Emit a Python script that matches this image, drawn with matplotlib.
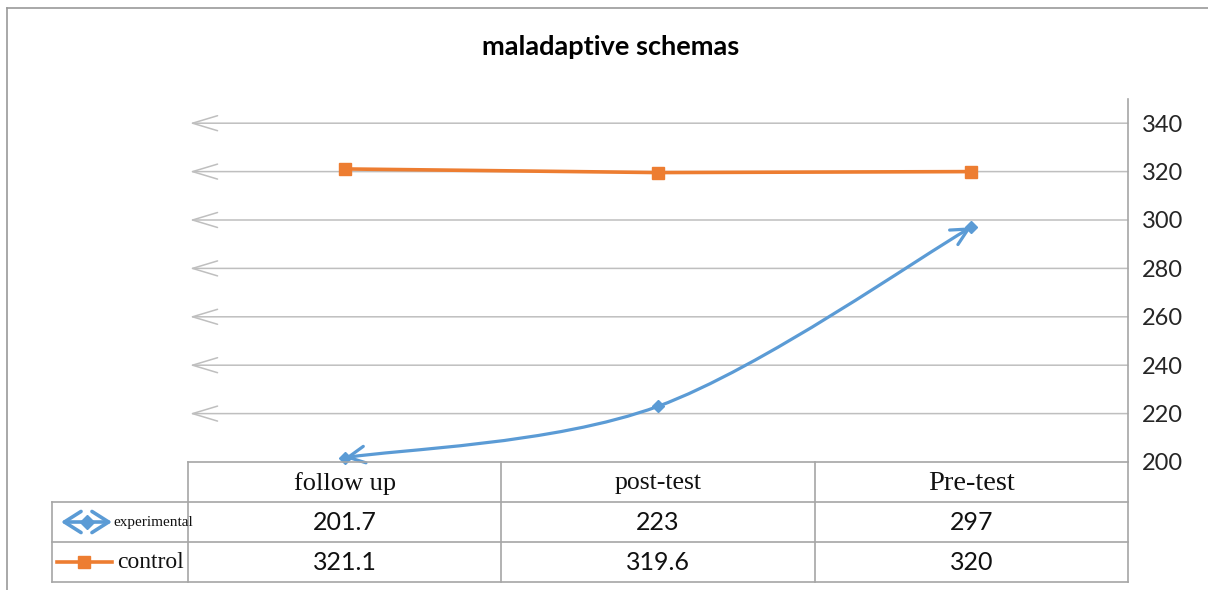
import matplotlib
matplotlib.use("Agg")
import matplotlib.pyplot as plt
from matplotlib.path import Path
from matplotlib.patches import FancyArrowPatch
from matplotlib.lines import Line2D

# data
categories = ["follow up", "post-test", "Pre-test"]
experimental = [201.7, 223, 297]
control = [321.1, 319.6, 320]
series_names = ["experimental", "control"]
yticks = [200, 220, 240, 260, 280, 300, 320, 340]
title = "maladaptive schemas"

BLUE = "#5B9BD5"
ORANGE = "#ED7D31"
GRID = "#bfbfbf"
BORDER = "#a6a6a6"
W, H = 1208, 590


def smooth_path(xs, ys):
    """Excel-like smoothed line through the points (cubic bezier)."""
    pts = list(zip(xs, ys))
    verts = [pts[0]]
    codes = [Path.MOVETO]
    n = len(pts)
    for i in range(n - 1):
        p_prev = pts[max(i - 1, 0)]
        p0, p1 = pts[i], pts[i + 1]
        p_next = pts[min(i + 2, n - 1)]
        c1 = (p0[0] + (p1[0] - p_prev[0]) / 6, p0[1] + (p1[1] - p_prev[1]) / 6)
        c2 = (p1[0] - (p_next[0] - p0[0]) / 6, p1[1] - (p_next[1] - p0[1]) / 6)
        verts += [c1, c2, p1]
        codes += [Path.CURVE4] * 3
    return Path(verts, codes)


fig = plt.figure(figsize=(W / 100, H / 100), dpi=100)

# outer frame (only top/left visible)
fig.add_artist(Line2D([7 / W, 7 / W], [0, 1 - 8 / H], color="#9a9a9a", lw=1.2))
fig.add_artist(Line2D([7 / W, 1], [1 - 8 / H, 1 - 8 / H], color="#9a9a9a", lw=1.2))

fig.text(0.5055, 1 - 47 / H, title, ha="center", va="center",
         fontsize=19.5, fontweight="bold", family="Lato", color="#000000")

# main plot area
ax = fig.add_axes([188 / W, 1 - 462 / H, 940 / W, 363 / H])
x = list(range(len(categories)))
ax.set_xlim(-0.5, 2.5)
ax.set_ylim(200, 350)
for s in ["top", "left", "bottom"]:
    ax.spines[s].set_visible(False)
ax.spines["right"].set_color(BORDER)
ax.spines["right"].set_linewidth(1.2)
ax.set_xticks([])
ax.yaxis.tick_right()
ax.set_yticks(yticks)
ax.set_yticklabels([str(v) for v in yticks], family="Lato", fontsize=17, color="#262626")
ax.tick_params(axis="y", length=0, pad=10)

# gridlines with open arrowheads on the left end
for v in yticks[1:]:
    ax.annotate("", xy=(-0.5 + 0.006, v), xytext=(2.5, v),
                arrowprops=dict(arrowstyle="->,head_length=0.9,head_width=0.27",
                                mutation_scale=20, color=GRID, lw=1.1,
                                shrinkA=0, shrinkB=0),
                zorder=1)

# control series
ax.plot(x, control, color=ORANGE, lw=2.6, marker="s", ms=8, zorder=3,
        solid_capstyle="round")

# experimental series: smoothed with arrows at both ends
arr = FancyArrowPatch(path=smooth_path(x, experimental),
                      arrowstyle="<->,head_length=0.6,head_width=0.3",
                      mutation_scale=20, color=BLUE, lw=2.3, zorder=4,
                      clip_on=False)
ax.add_patch(arr)
ax.plot(x, experimental, ls="none", marker="D", ms=6, color=BLUE, zorder=5,
        clip_on=False)

# data table underneath
label_w = 136 / (940 / 3)
tab = fig.add_axes([52 / W, 1 - 582 / H, 1076 / W, 120 / H])
tab.set_xlim(-0.5 - label_w, 2.5)
tab.set_ylim(3, 0)
tab.axis("off")
left = -0.5 - label_w
lk = dict(color=BORDER, lw=1.2, clip_on=False)
tab.plot([-0.5, 2.5], [0, 0], **lk)
for r in [1, 2, 3]:
    tab.plot([left, 2.5], [r, r], **lk)
for c in [-0.5, 0.5, 1.5, 2.5]:
    tab.plot([c, c], [0, 3], **lk)
tab.plot([left, left], [1, 3], **lk)

header_sizes = [19, 18.5, 20.5]
for i, cat in enumerate(categories):
    tab.text(i, 0.53, cat, ha="center", va="center", family="Liberation Serif",
             fontsize=header_sizes[i], color="#111111")
for row, vals in enumerate([experimental, control], start=1):
    for i, v in enumerate(vals):
        tab.text(i, row + 0.5, f"{v:g}", ha="center", va="center",
                 family="Lato", fontsize=18, color="#111111")


def px(p):
    return left + (p - 52) / (940 / 3)


# legend keys in the row headers
key = FancyArrowPatch((px(61), 1.5), (px(112), 1.5),
                      arrowstyle="<->,head_length=0.6,head_width=0.38",
                      mutation_scale=20, color=BLUE, lw=2.6, shrinkA=0, shrinkB=0)
tab.add_patch(key)
tab.plot([px(87)], [1.5], marker="D", ms=7, color=BLUE)
tab.text(px(113), 1.52, series_names[0], ha="left", va="center",
         family="Liberation Serif", fontsize=11, color="#111111", clip_on=False)

tab.plot([px(57), px(112)], [2.5, 2.5], color=ORANGE, lw=2.6, zorder=3)
tab.plot([px(84)], [2.5], marker="s", ms=8, color=ORANGE, ls="none")
tab.text(px(117), 2.5, series_names[1], ha="left", va="center",
         family="Liberation Serif", fontsize=17, color="#111111")

fig.savefig("out.png", dpi=100)
